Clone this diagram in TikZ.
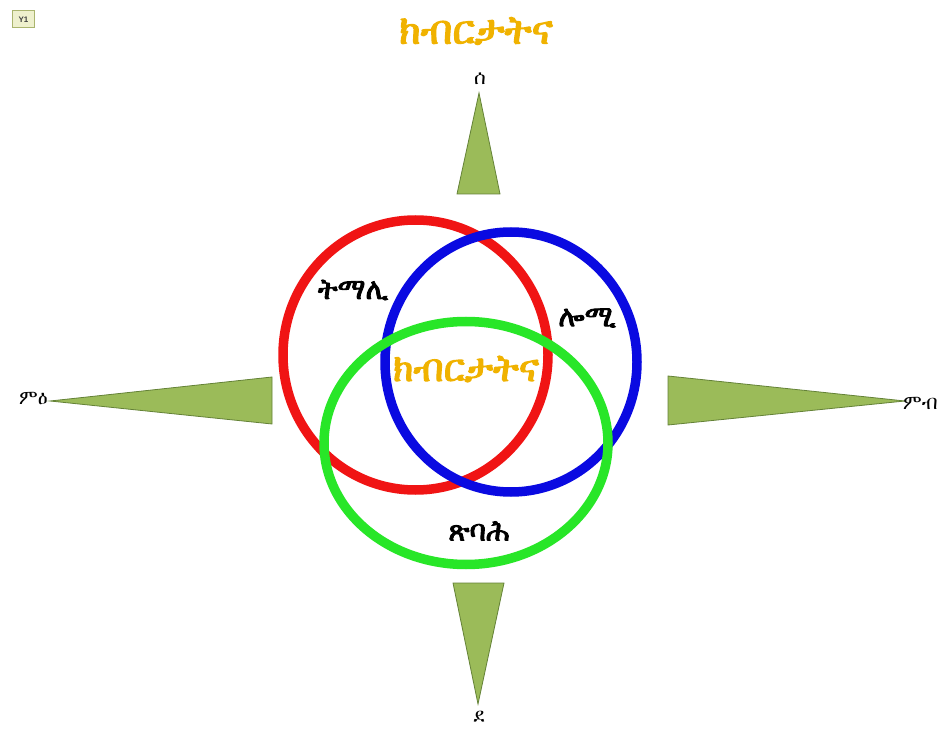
\documentclass[tikz,border=0pt]{standalone}
\usepackage{fontspec}
\IfFontExistsTF{FreeSerif}{%
  \newfontfamily\eth[AutoFakeBold=3]{FreeSerif}%
}{%
  \newfontfamily\eth{DejaVu Sans}%
}
\setmainfont{Liberation Sans}
\definecolor{gold}{RGB}{240,178,0}
\definecolor{olivefill}{RGB}{155,187,89}
\definecolor{oliveline}{RGB}{100,130,55}
\definecolor{ringred}{RGB}{240,20,20}
\definecolor{ringblue}{RGB}{10,10,225}
\definecolor{ringgreen}{RGB}{40,230,40}
\definecolor{tagfill}{RGB}{238,240,205}
\definecolor{tagline}{RGB}{170,180,110}
\tikzset{
  pointer/.style={fill=olivefill,draw=oliveline,line width=0.8pt,line join=miter},
  ring/.style={line width=9.5pt},
  goldtext/.style={text=gold,font=\eth\bfseries\fontsize{40}{44}\selectfont,inner sep=0pt},
  ringlabel/.style={text=black,font=\eth\bfseries\fontsize{29}{32}\selectfont,inner sep=0pt},
  dirlabel/.style={text=black,font=\eth\fontsize{20}{22}\selectfont,inner sep=0pt},
}
\begin{document}
\begin{tikzpicture}[x=1pt,y=-1pt]
\useasboundingbox (0,0) rectangle (938,735);
\fill[white] (0,0) rectangle (938,735);
% tag box
\node[draw=tagline,fill=tagfill,line width=1pt,minimum width=22pt,minimum height=17pt,inner sep=0pt,
  font=\fontsize{8}{9}\selectfont\bfseries,text=black!75] (tag) at (23.5,19.5) {Y1};
% title
\node[goldtext] (title) at (476,31) {ክብርታትና};
% compass pointers
\coordinate (nA) at (479,93);
\coordinate (nB) at (457,194);
\coordinate (nC) at (500,194);
\fill[pointer] (nA) -- (nB) -- (nC) -- cycle;
\coordinate (wA) at (50,401);
\coordinate (wB) at (272,377);
\coordinate (wC) at (272,424);
\fill[pointer] (wA) -- (wB) -- (wC) -- cycle;
\coordinate (eA) at (905,401);
\coordinate (eB) at (668,376);
\coordinate (eC) at (668,425);
\fill[pointer] (eA) -- (eB) -- (eC) -- cycle;
\coordinate (sA) at (478,704);
\coordinate (sB) at (453,583);
\coordinate (sC) at (504,583);
\fill[pointer] (sA) -- (sB) -- (sC) -- cycle;
% compass labels
\node[dirlabel] (north) at (480,79) {ሰ};
\node[dirlabel,anchor=east] (west) at (48,399) {ምዕ};
\node[dirlabel,anchor=west] (east) at (903,403) {ምብ};
\node[dirlabel] (south) at (479,717) {ደ};
% rings
\draw[ring,ringred] (415.5,355) ellipse [x radius=132.5, y radius=135];
\draw[ring,ringblue] (511,362) ellipse [x radius=126, y radius=130];
\draw[ring,ringgreen] (466,443) ellipse [x radius=142, y radius=121.5];
% ring labels
\node[ringlabel] (past) at (353,290) {ትማሊ};
\node[ringlabel] (today) at (587,318) {ሎሚ};
\node[ringlabel] (tomorrow) at (479,531) {ጽባሕ};
\node[goldtext,font=\eth\bfseries\fontsize{38}{42}\selectfont] (core) at (466,369) {ክብርታትና};
\end{tikzpicture}
\end{document}
